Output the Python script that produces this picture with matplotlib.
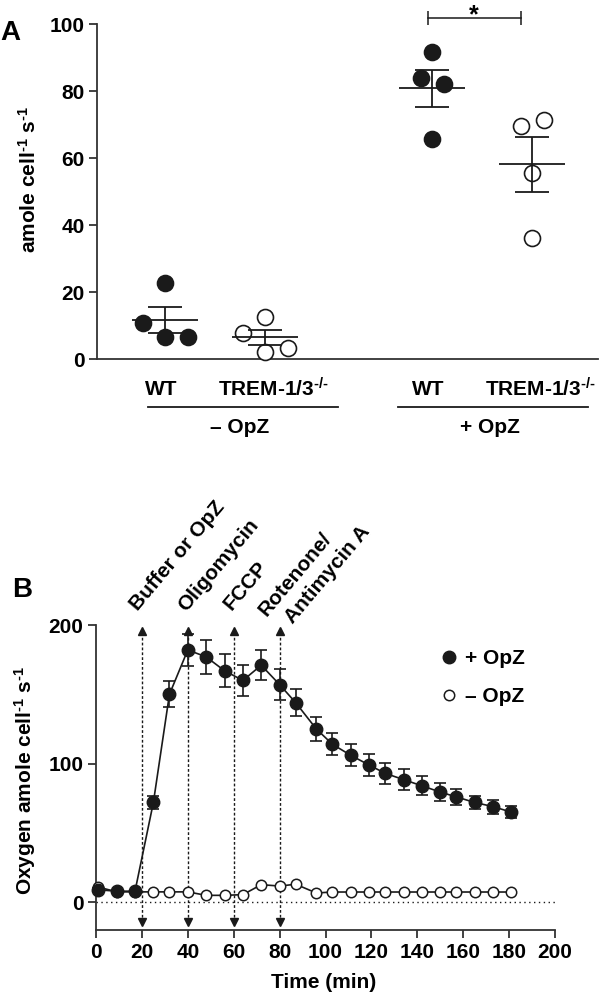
import numpy as np
import matplotlib
matplotlib.use('Agg')
import matplotlib.pyplot as plt
from matplotlib.lines import Line2D

plt.rcParams['font.family'] = ['Liberation Sans', 'DejaVu Sans']
plt.rcParams['font.weight'] = 'bold'
plt.rcParams['axes.labelweight'] = 'bold'
plt.rcParams['mathtext.fontset'] = 'custom'
plt.rcParams['mathtext.rm'] = 'Liberation Sans:bold'
plt.rcParams['mathtext.it'] = 'Liberation Sans:bold'
plt.rcParams['mathtext.bf'] = 'Liberation Sans:bold'
plt.rcParams['mathtext.default'] = 'rm'

# --- panel A data (amole cell-1 s-1) ---
wt_minus = [22.7, 10.7, 6.6, 6.6]
trem_minus = [12.5, 7.8, 2.1, 3.3]
wt_plus = [91.6, 83.9, 82.0, 65.7]
trem_plus = [69.6, 71.3, 55.5, 36.1]
hy = '\u2010'
group_labels = ['WT', 'TREM-1/3$^{' + hy + '/' + hy + '}$', 'WT', 'TREM-1/3$^{' + hy + '/' + hy + '}$']
cond_labels = ['\u2013 OpZ', '+ OpZ']

# --- panel B data ---
times = [1, 9, 17, 25, 32, 40, 48, 56, 64, 72, 80, 87, 96, 103, 111, 119, 126, 134, 142, 150, 157, 165, 173, 181]
plus_opz = [9, 8, 8, 72, 150, 182, 177, 167, 160, 171, 157, 144, 125, 114, 106, 99, 93, 88.5, 84, 79.5, 76, 72, 69, 65]
plus_sem = [1, 1, 1, 5, 9.5, 11.5, 12, 12, 11, 11, 11, 9.6, 8.4, 8, 8, 7.8, 7.8, 7.3, 6.8, 6.7, 6, 5, 5, 4.5]
minus_opz = [11, 7.5, 7.5, 7.5, 7.5, 7.5, 5, 5, 5.5, 12.7, 11.7, 13, 6.7, 7.4, 7.4, 7.4, 7.4, 7.4, 7.4, 7.4, 7.4, 7.4, 7.4, 7.4]
inject_times = [20, 40, 60, 80]
inject_labels = ['Buffer or OpZ', 'Oligomycin', 'FCCP', 'Rotenone/', 'Antimycin A']

fs = 15
dark = '#1a1a1a'
unit = 'cell$^{' + hy + '1}$ s$^{' + hy + '1}$'

fig = plt.figure(figsize=(6, 9.96), dpi=100)
axA = fig.add_axes([97/600, 1-359/996, 501/600, 335/996])
axB = fig.add_axes([96/600, 1-930/996, 459/600, 305/996])

# ---------- Panel A ----------
xpos = [1, 2, 3.67, 4.67]
offsets = [[0, -0.22, 0, 0.23], [0, -0.22, 0, 0.23], [0, -0.11, 0.12, 0], [-0.11, 0.12, 0, 0]]
filled = [True, False, True, False]
for i, vals in enumerate([wt_minus, trem_minus, wt_plus, trem_plus]):
    vals = np.array(vals)
    m = vals.mean()
    sem = vals.std(ddof=1) / np.sqrt(len(vals))
    xs = xpos[i] + np.array(offsets[i])
    axA.plot(xs, vals, 'o', ms=11.5, mfc=dark if filled[i] else 'white',
             mec=dark, mew=1.2, zorder=3, clip_on=False)
    axA.hlines(m, xpos[i]-0.33, xpos[i]+0.33, color=dark, lw=1.3, zorder=4)
    axA.vlines(xpos[i], m-sem, m+sem, color=dark, lw=1.3, zorder=4)
    axA.hlines([m-sem, m+sem], xpos[i]-0.17, xpos[i]+0.17, color=dark, lw=1.3, zorder=4)

axA.set_xlim(0.32, 5.33)
axA.set_ylim(0, 100)
axA.set_yticks([0, 20, 40, 60, 80, 100])
axA.set_xticks([])
axA.spines['top'].set_visible(False)
axA.spines['right'].set_visible(False)
for s in ['left', 'bottom']:
    axA.spines[s].set_linewidth(1.3)
    axA.spines[s].set_color('#333333')
axA.tick_params(axis='y', labelsize=fs, length=6, width=1.3, color='#333333', pad=3)
axA.set_ylabel('amole ' + unit, fontsize=fs)
axA.yaxis.set_label_coords(-0.114, 0.535)

trA = axA.get_xaxis_transform()
label_x = [0.96, 2.08, 3.63, 4.75]
for x, lab in zip(label_x, group_labels):
    axA.text(x, -0.09, lab, transform=trA, ha='center', va='center', fontsize=fs)
axA.plot([0.83, 2.73], [-0.143, -0.143], color=dark, lw=1.3, transform=trA, clip_on=False)
axA.plot([3.33, 5.23], [-0.143, -0.143], color=dark, lw=1.3, transform=trA, clip_on=False)
axA.text(1.75, -0.205, cond_labels[0], transform=trA, ha='center', va='center', fontsize=fs)
axA.text(4.25, -0.205, cond_labels[1], transform=trA, ha='center', va='center', fontsize=fs)

# significance bracket
axA.plot([3.63, 4.56], [101.8, 101.8], color=dark, lw=1.1, clip_on=False)
axA.vlines([3.63, 4.56], 99.8, 103.8, color=dark, lw=1.1, clip_on=False)
axA.text(4.09, 102.6, '*', ha='center', va='center', fontsize=18, clip_on=False)

# ---------- Panel B ----------
axB.axhline(0, color=dark, lw=1, ls=(0, (1, 2.5)))
for t in inject_times:
    axB.plot([t, t], [-14, 196], color=dark, lw=1, ls=(0, (2, 1.5)))
    axB.plot(t, 196, marker='^', ms=6, color=dark, clip_on=False)
    axB.plot(t, -14, marker='v', ms=6, color=dark, clip_on=False)

axB.plot(times, minus_opz, '-o', color=dark, lw=1.2, ms=7.5, mfc='white', mec=dark, mew=1.1, zorder=3, clip_on=False)
axB.errorbar(times, plus_opz, yerr=plus_sem, fmt='-o', color=dark, lw=1.2, ms=9, mfc=dark, mec=dark,
             elinewidth=1.2, capsize=4.3, capthick=1.2, zorder=4, clip_on=False)

axB.set_xlim(0, 200)
axB.set_ylim(-20, 200)
axB.set_xticks(np.arange(0, 201, 20))
axB.set_yticks([0, 100, 200])
axB.spines['top'].set_visible(False)
axB.spines['right'].set_visible(False)
for s in ['left', 'bottom']:
    axB.spines[s].set_linewidth(1.3)
    axB.spines[s].set_color('#333333')
axB.tick_params(labelsize=fs, length=6, width=1.3, color='#333333', pad=3)
axB.set_ylabel('Oxygen amole ' + unit, fontsize=fs)
axB.yaxis.set_label_coords(-0.126, 0.49)
axB.set_xlabel('Time (min)', fontsize=fs)
axB.xaxis.set_label_coords(0.495, -0.14)

# injection labels
label_pos = [(18.2, 210), (39.2, 209), (59.1, 210), (74.3, 206), (85.6, 200.5)]
for (x, y), lab in zip(label_pos, inject_labels):
    axB.text(x, y, lab, rotation=50, rotation_mode='anchor', ha='left', va='baseline',
             fontsize=fs, clip_on=False)

handles = [Line2D([], [], ls='none', marker='o', ms=9, mfc=dark, mec=dark),
           Line2D([], [], ls='none', marker='o', ms=7.5, mfc='white', mec=dark, mew=1.1)]
axB.legend(handles, ['+ OpZ', '\u2013 OpZ'], frameon=False, loc='upper left',
           bbox_to_anchor=(0.75, 0.92), borderpad=0, borderaxespad=0,
           handlelength=0.8, handletextpad=0.4, labelspacing=0.9, fontsize=fs)

fig.text(10/600, 1-33/996, 'A', fontsize=20, ha='center', va='center')
fig.text(22/600, 1-590/996, 'B', fontsize=20, ha='center', va='center')

fig.savefig('out.png', dpi=100)
